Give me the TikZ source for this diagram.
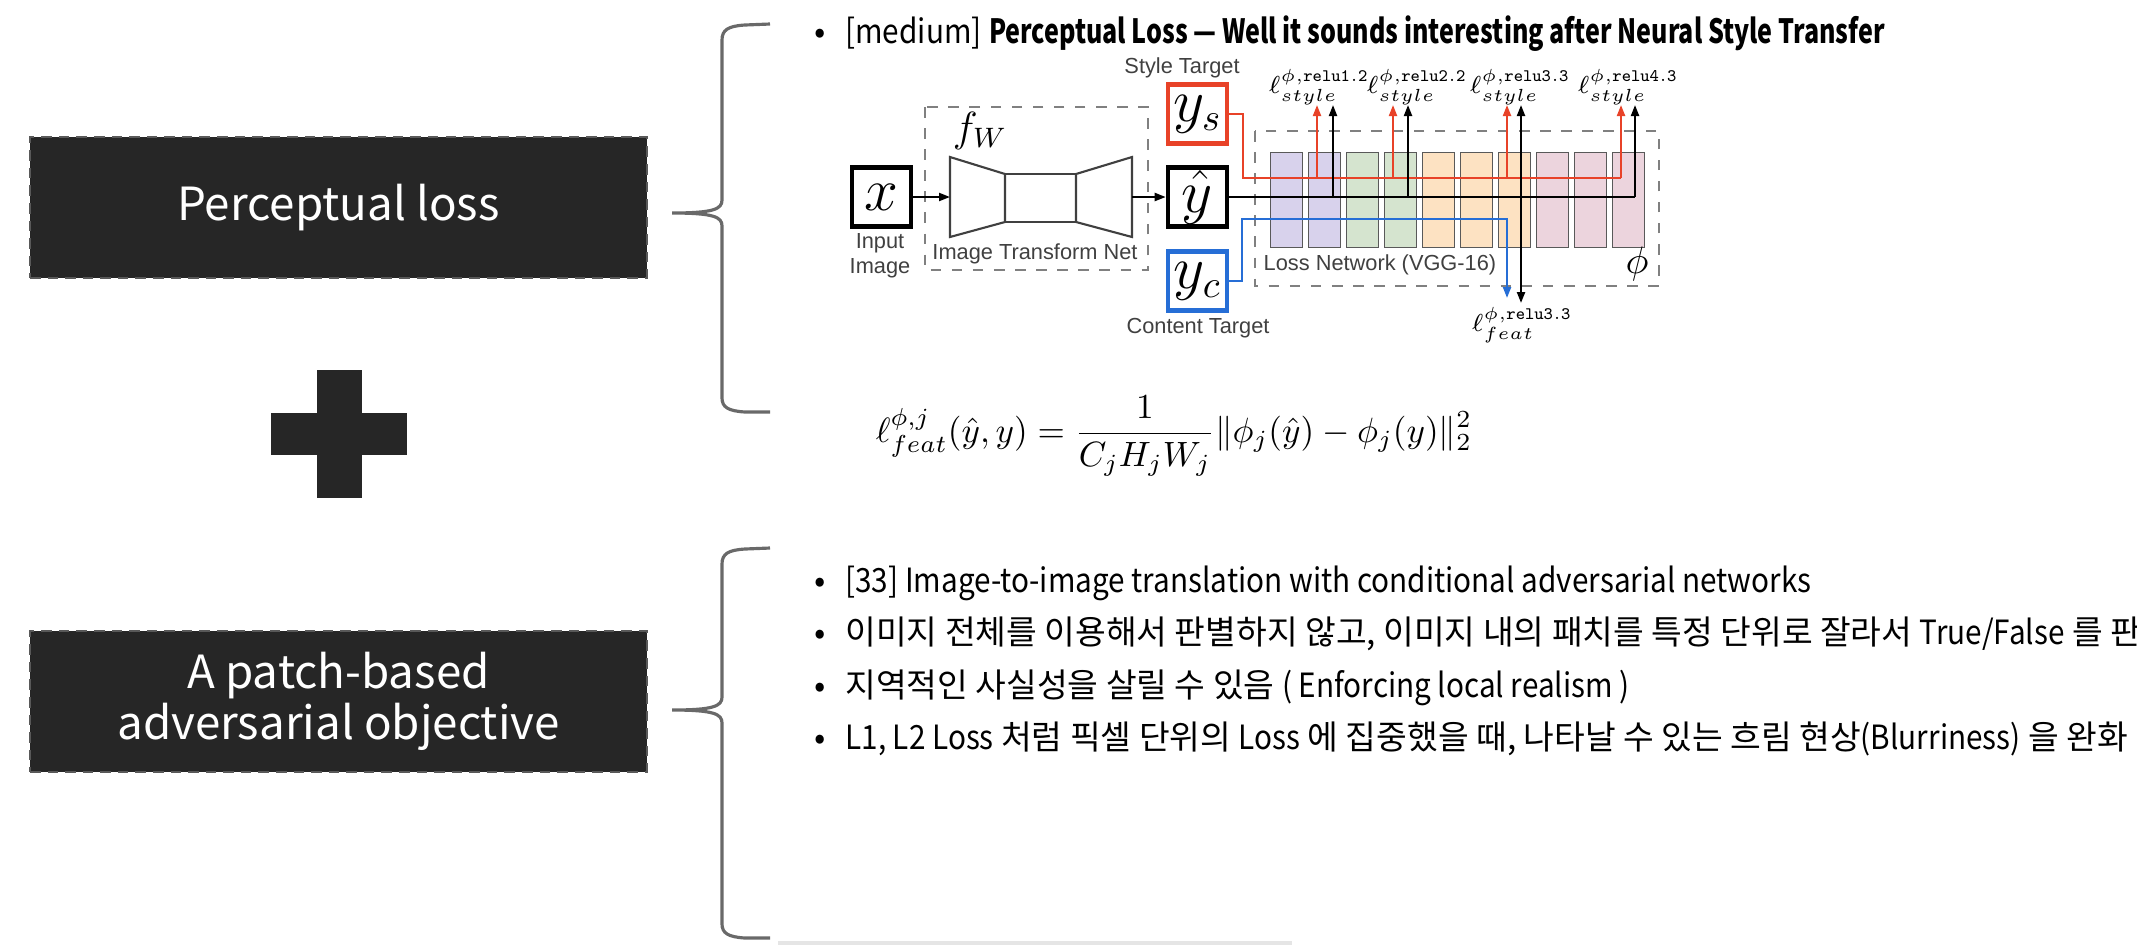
\documentclass[tikz,border=0pt]{standalone}
\usepackage{amsmath}
\usepackage[no-math]{fontspec}
\setmainfont{Noto Sans CJK KR}
\newfontfamily\narrowlat[FakeStretch=0.89]{Noto Sans CJK KR}
\newfontfamily\narrowbold[FakeStretch=0.75]{Noto Sans CJK KR}
\newfontfamily\figfont{Liberation Sans}
\usetikzlibrary{arrows.meta,positioning}
\definecolor{boxgray}{RGB}{38,38,38}
\definecolor{stylered}{RGB}{232,66,40}
\definecolor{contentblue}{RGB}{38,110,214}
\definecolor{vggpurple}{RGB}{216,210,236}
\definecolor{vgggreen}{RGB}{213,228,207}
\definecolor{vggorange}{RGB}{253,226,194}
\definecolor{vggpink}{RGB}{236,212,221}
\definecolor{bracegray}{RGB}{105,105,105}

\begin{document}
\begin{tikzpicture}[
    x=1cm, y=-1cm,
    topic/.style={rectangle, fill=boxgray, draw=gray!70!black, densely dashed, text=white, align=center, minimum width=6.17cm, minimum height=1.41cm, font=\fontsize{13}{14.5}\selectfont},
    varbox/.style={rectangle, draw, line width=1.3pt, minimum size=0.59cm, inner sep=0pt, font=\fontsize{16}{16}\selectfont},
    netbox/.style={draw=gray, dashed, line width=0.6pt},
    vgg/.style={rectangle, draw=black!65, minimum width=0.32cm, minimum height=0.95cm, inner sep=0pt, anchor=north west},
    figlabel/.style={font=\figfont\fontsize{6.2}{7.1}\selectfont, text=black!75, inner sep=0pt, align=center},
    lossmath/.style={font=\fontsize{6.7}{7.5}\selectfont, inner sep=0pt},
    bline/.style={anchor=base west, inner sep=0pt, font=\fontsize{9.5}{11}\selectfont},
    arr/.style={line width=0.6pt, -{Triangle[length=1.1mm,width=0.8mm]}},
    curly/.style={draw=bracegray, line width=0.9pt}
]
\useasboundingbox (0,0) rectangle (21.37,9.46);
\clip (0,0) rectangle (21.37,9.46);

% left column
\node[topic] (perc) at (3.385,2.075) {Perceptual loss};
\node[topic] (patch) at (3.385,7.015) {A patch-based\\adversarial objective};
\fill[boxgray] (3.165,3.70) rectangle (3.615,4.98);
\fill[boxgray] (2.71,4.13) rectangle (4.07,4.55);

% braces
\draw[curly] (7.70,0.24) -- (7.45,0.25) .. controls (7.28,0.26) and (7.22,0.30) .. (7.22,0.40) -- (7.22,2.00) .. controls (7.22,2.09) and (7.14,2.13) .. (6.72,2.13) .. controls (7.14,2.13) and (7.22,2.17) .. (7.22,2.26) -- (7.22,3.98) .. controls (7.22,4.07) and (7.28,4.11) .. (7.45,4.12) -- (7.70,4.12);
\draw[curly] (7.70,5.48) -- (7.45,5.49) .. controls (7.28,5.50) and (7.22,5.54) .. (7.22,5.64) -- (7.22,6.97) .. controls (7.22,7.06) and (7.14,7.10) .. (6.72,7.10) .. controls (7.14,7.10) and (7.22,7.14) .. (7.22,7.23) -- (7.22,9.24) .. controls (7.22,9.33) and (7.28,9.37) .. (7.45,9.38) -- (7.70,9.38);
\draw[gray!20, line width=1pt] (7.78,9.43) -- (12.92,9.43);

% perceptual loss text
\node[bline] (t1) at (8.14,0.43) {\textbullet\hspace{5.5pt}{\narrowlat[medium]} {\narrowbold\bfseries Perceptual Loss — Well it sounds interesting after Neural Style Transfer}};

% image transform net
\node[varbox] (x) at (8.815,1.97) {$x$};
\node[figlabel] (xlbl) at (8.80,2.555) {Input\\Image};
\draw[netbox] (9.25,1.07) rectangle (11.48,2.70);
\node[font=\fontsize{12}{12}\selectfont] (fw) at (9.80,1.31) {$f_W$};
\draw[line width=0.6pt, black!75] (9.50,1.57) -- (10.05,1.74) -- (10.05,2.22) -- (9.50,2.37) -- cycle;
\draw[line width=0.6pt, black!75] (10.05,1.74) rectangle (10.76,2.22);
\draw[line width=0.6pt, black!75] (10.76,1.74) -- (11.32,1.57) -- (11.32,2.37) -- (10.76,2.22) -- cycle;
\coordinate (encin) at (9.50,1.97);
\coordinate (decout) at (11.32,1.97);
\node[figlabel] (itn) at (10.35,2.54) {Image Transform Net};

\node[varbox] (yhat) at (11.975,1.97) {$\hat{y}$};
\node[varbox, draw=stylered] (ys) at (11.975,1.14) {$y_s$};
\node[varbox, draw=contentblue] (yc) at (11.975,2.81) {$y_c$};
\node[figlabel] (stl) at (11.82,0.68) {Style Target};
\node[figlabel] (cnt) at (11.98,3.28) {Content Target};
\draw[arr] (x) -- (encin);
\draw[arr] (decout) -- (yhat);

% loss network
\draw[netbox] (12.55,1.31) rectangle (16.59,2.86);
\foreach \i/\c in {1/vggpurple,2/vggpurple,3/vgggreen,4/vgggreen,5/vggorange,6/vggorange,7/vggorange,8/vggpink,9/vggpink,10/vggpink}
  \node[vgg, fill=\c] (l\i) at ({12.70+0.38*(\i-1)},1.52) {};
\node[figlabel, anchor=west] (lossnet) at (12.63,2.65) {Loss Network (VGG-16)};
\node[font=\fontsize{11}{11}\selectfont] (phi) at (16.37,2.64) {$\phi$};

% style branch
\draw[stylered, line width=0.7pt] (ys.east) -| (12.43,1.78) -- (16.21,1.78);
\foreach \x [count=\k] in {13.17,13.93,15.07,16.21} {
  \coordinate (rs\k) at (\x,1.78);
  \coordinate (re\k) at (\x,1.05);
  \draw[arr, stylered] (rs\k) -- (re\k);
}
% output branch
\draw[line width=0.6pt] (yhat.east) -- (16.35,1.97);
\foreach \x [count=\k] in {13.33,14.08,15.21,16.35} {
  \coordinate (bs\k) at (\x,1.97);
  \coordinate (be\k) at (\x,1.05);
  \draw[arr] (bs\k) -- (be\k);
}
\coordinate (fdown) at (15.21,3.03);
\draw[arr] (bs3) -- (fdown);
% content branch
\coordinate (fblue) at (15.07,2.98);
\draw[arr, contentblue] (yc.east) -| (12.42,2.19) -| (fblue);

\node[lossmath] (s1) at (13.19,0.87) {$\ell^{\phi,\mathtt{relu1.2}}_{style}$};
\node[lossmath] (s2) at (14.17,0.87) {$\ell^{\phi,\mathtt{relu2.2}}_{style}$};
\node[lossmath] (s3) at (15.20,0.87) {$\ell^{\phi,\mathtt{relu3.3}}_{style}$};
\node[lossmath] (s4) at (16.28,0.87) {$\ell^{\phi,\mathtt{relu4.3}}_{style}$};
\node[lossmath] (f3) at (15.22,3.25) {$\ell^{\phi,\mathtt{relu3.3}}_{feat}$};

% feature loss
\node[font=\fontsize{10}{12}\selectfont] (feat) at (11.74,4.36) {$\displaystyle \ell^{\phi,j}_{feat}(\hat{y},y)=\frac{1}{C_jH_jW_j}\|\phi_j(\hat{y})-\phi_j(y)\|_2^2$};

% adversarial text
\node[bline] (t2) at (8.14,5.92) {\textbullet\hspace{5.5pt}{\narrowlat [33] Image-to-image translation with conditional adversarial networks}};
\node[bline] (t3) at (8.14,6.44) {\textbullet\hspace{5.5pt}이미지 전체를 이용해서 판별하지 않고, 이미지 내의 패치를 특정 단위로 잘라서 {\narrowlat True/False} 를 판별};
\node[bline] (t4) at (8.14,6.97) {\textbullet\hspace{5.5pt}지역적인 사실성을 살릴 수 있음 {\narrowlat ( Enforcing local realism )}};
\node[bline] (t5) at (8.14,7.49) {\textbullet\hspace{5.5pt}{\narrowlat L1, L2 Loss} 처럼 픽셀 단위의 {\narrowlat Loss} 에 집중했을 때, 나타날 수 있는 흐림 현상{\narrowlat (Blurriness)} 을 완화};
\end{tikzpicture}
\end{document}
